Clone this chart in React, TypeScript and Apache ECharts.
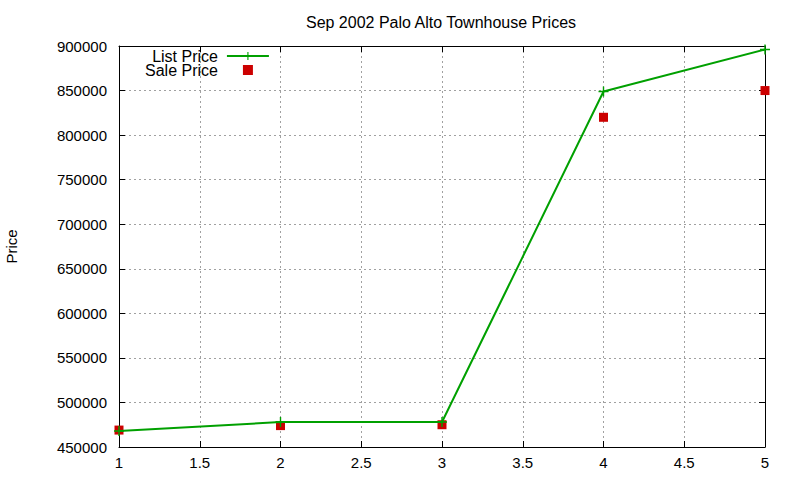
import React, { useEffect, useRef } from 'react';
import * as echarts from 'echarts';

// 数据
const xValues = [1, 2, 3, 4, 5];
const listPrices = [468000, 478000, 478000, 849000, 896000];
const salePrices = [469000, 474000, 475000, 820000, 850000];

const plusSymbol = 'path://M0,4.3 H10 V5.7 H0 Z M4.3,0 H5.7 V10 H4.3 Z';
const squareIcon = 'path://M0,0 H10 V10 H0 Z';

const App: React.FC = () => {
  const chartRef = useRef<HTMLDivElement>(null);

  useEffect(() => {
    if (!chartRef.current) return;
    const chart = echarts.init(chartRef.current, undefined, { renderer: 'svg' });

    const font = 'Liberation Sans, Arial, sans-serif';
    const gridLine = { show: true, lineStyle: { color: '#a0a0a0', type: [2, 3] as any, width: 1 } };

    const option: echarts.EChartsOption = {
      animation: false,
      backgroundColor: '#ffffff',
      textStyle: { fontFamily: font },
      title: {
        text: 'Sep 2002 Palo Alto Townhouse Prices',
        left: 436,
        top: 9,
        textAlign: 'center',
        textStyle: { fontSize: 16, fontWeight: 'normal', color: '#000', fontFamily: font }
      },
      legend: {
        orient: 'vertical',
        left: 140,
        top: 43,
        align: 'right',
        itemWidth: 42,
        itemHeight: 10,
        itemGap: -2,
        symbolKeepAspect: true,
        textStyle: {
          fontSize: 16,
          lineHeight: 14,
          color: '#000',
          width: 72,
          padding: [0, 4, 0, 0],
          align: 'right',
          fontFamily: font
        },
        data: [{ name: 'List Price' }, { name: 'Sale Price', icon: squareIcon }]
      },
      grid: { left: 119, right: 35, top: 46, bottom: 33, outerBoundsMode: 'none' } as any,
      xAxis: [
        {
          type: 'value',
          min: 1,
          max: 5,
          interval: 0.5,
          axisLine: { show: true, lineStyle: { color: '#000', width: 1 } },
          axisTick: { show: true, inside: true, length: 6, lineStyle: { color: '#000' } },
          axisLabel: { fontSize: 15, color: '#000', margin: 8, fontFamily: font },
          splitLine: gridLine
        },
        {
          type: 'value',
          position: 'top',
          min: 1,
          max: 5,
          interval: 0.5,
          axisLine: { show: true, lineStyle: { color: '#000', width: 1 } },
          axisTick: { show: true, inside: true, length: 6, lineStyle: { color: '#000' } },
          axisLabel: { show: false },
          splitLine: { show: false }
        }
      ],
      yAxis: [
        {
          type: 'value',
          min: 450000,
          max: 900000,
          interval: 50000,
          name: 'Price',
          nameLocation: 'middle',
          nameGap: 100,
          nameRotate: 90,
          nameTextStyle: { fontSize: 15, color: '#000', fontFamily: font },
          axisLine: { show: true, lineStyle: { color: '#000', width: 1 } },
          axisTick: { show: true, inside: true, length: 6, lineStyle: { color: '#000' } },
          axisLabel: { fontSize: 15, color: '#000', margin: 12, fontFamily: font, formatter: (v: number) => String(v) },
          splitLine: gridLine
        },
        {
          type: 'value',
          position: 'right',
          min: 450000,
          max: 900000,
          interval: 50000,
          axisLine: { show: true, lineStyle: { color: '#000', width: 1 } },
          axisTick: { show: true, inside: true, length: 6, lineStyle: { color: '#000' } },
          axisLabel: { show: false },
          splitLine: { show: false }
        }
      ],
      series: [
        {
          name: 'List Price',
          type: 'line',
          data: xValues.map((x, i) => [x, listPrices[i]]),
          symbol: plusSymbol,
          symbolSize: 10,
          lineStyle: { color: '#00a000', width: 2 },
          itemStyle: { color: '#00a000' }
        },
        {
          name: 'Sale Price',
          type: 'scatter',
          data: xValues.map((x, i) => [x, salePrices[i]]),
          symbol: 'rect',
          symbolSize: 9,
          itemStyle: { color: '#cc0000', opacity: 1 }
        }
      ]
    };

    chart.setOption(option);
    return () => chart.dispose();
  }, []);

  return <div ref={chartRef} style={{ width: 800, height: 480, position: 'absolute', left: 0, top: 0 }} />;
};

export default App;
